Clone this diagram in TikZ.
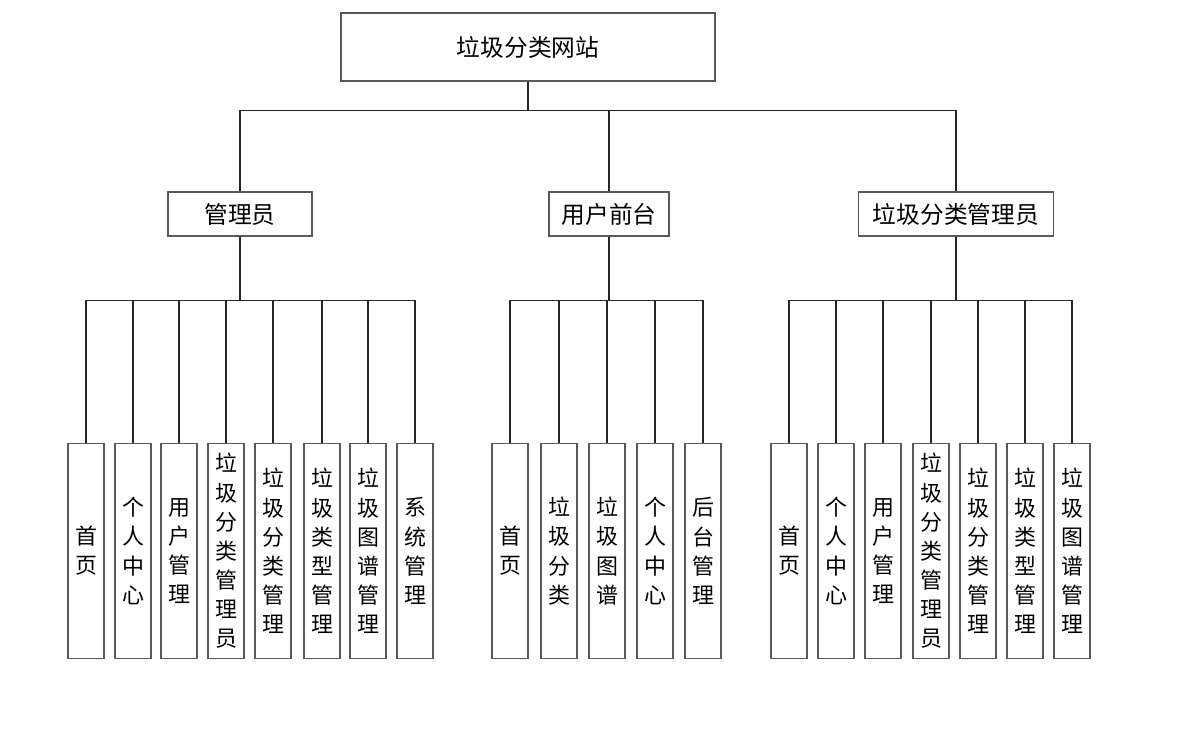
\documentclass[tikz,border=0pt]{standalone}
\usepackage{fontspec}
\newfontfamily\cjk{Noto Sans CJK SC}
\usetikzlibrary{positioning}
\tikzset{
    topbox/.style={
        rectangle, draw=black!65, line width=0.7pt,
        minimum width=7.48cm, minimum height=1.36cm,
        fill=white, font=\cjk\fontsize{13.5pt}{16pt}\selectfont
    },
    midbox/.style={
        rectangle, draw=black!65, line width=0.7pt,
        minimum height=0.88cm, inner sep=0pt,
        fill=white, font=\cjk\fontsize{13.5pt}{16pt}\selectfont
    },
    leafbox/.style={
        rectangle, draw=black!65, line width=0.7pt,
        minimum width=0.72cm, minimum height=4.3cm, inner sep=0pt,
        align=center, fill=white, font=\cjk\fontsize{12.5pt}{16.6pt}\selectfont
    },
    link/.style={draw=black!85, line width=0.6pt}
}
\begin{document}
\begin{tikzpicture}[x=0.02cm, y=-0.02cm]
\useasboundingbox (0,0) rectangle (1189,733);

% Root
\node[topbox] (site) at (528,47) {垃圾分类网站};

% Second level
\node[midbox, minimum width=2.88cm] (admin) at (240,214) {管理员};
\node[midbox, minimum width=2.4cm] (front) at (609,214) {用户前台};
\node[midbox, minimum width=3.9cm] (sorter) at (956,214) {垃圾分类管理员};

% Leaves of admin
\node[leafbox] (a1) at (86,551) {首\\页};
\node[leafbox] (a2) at (133,551) {个\\人\\中\\心};
\node[leafbox] (a3) at (179,551) {用\\户\\管\\理};
\node[leafbox] (a4) at (226,551) {垃\\圾\\分\\类\\管\\理\\员};
\node[leafbox] (a5) at (273,551) {垃\\圾\\分\\类\\管\\理};
\node[leafbox] (a6) at (322,551) {垃\\圾\\类\\型\\管\\理};
\node[leafbox] (a7) at (368,551) {垃\\圾\\图\\谱\\管\\理};
\node[leafbox] (a8) at (415,551) {系\\统\\管\\理};

% Leaves of front end
\node[leafbox] (f1) at (510,551) {首\\页};
\node[leafbox] (f2) at (559,551) {垃\\圾\\分\\类};
\node[leafbox] (f3) at (607,551) {垃\\圾\\图\\谱};
\node[leafbox] (f4) at (655,551) {个\\人\\中\\心};
\node[leafbox] (f5) at (703,551) {后\\台\\管\\理};

% Leaves of sorting admin
\node[leafbox] (s1) at (789,551) {首\\页};
\node[leafbox] (s2) at (836,551) {个\\人\\中\\心};
\node[leafbox] (s3) at (883,551) {用\\户\\管\\理};
\node[leafbox] (s4) at (931,551) {垃\\圾\\分\\类\\管\\理\\员};
\node[leafbox] (s5) at (978,551) {垃\\圾\\分\\类\\管\\理};
\node[leafbox] (s6) at (1025,551) {垃\\圾\\类\\型\\管\\理};
\node[leafbox] (s7) at (1072,551) {垃\\圾\\图\\谱\\管\\理};

% Connections
\foreach \m in {admin, front, sorter}
    \draw[link] (site.south) -- ++(0,29) -| (\m.north);
\foreach \i in {1,...,8}
    \draw[link] (admin.south) -- ++(0,64) -| (a\i.north);
\foreach \i in {1,...,5}
    \draw[link] (front.south) -- ++(0,64) -| (f\i.north);
\foreach \i in {1,...,7}
    \draw[link] (sorter.south) -- ++(0,64) -| (s\i.north);

\end{tikzpicture}
\end{document}
